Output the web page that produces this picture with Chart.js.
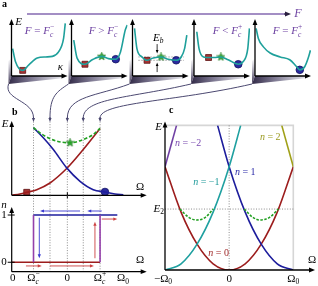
<!DOCTYPE html>
<html>
<head>
<meta charset="utf-8">
<script src="https://cdn.jsdelivr.net/npm/chart.js@4.4.1/dist/chart.umd.min.js"></script>
<style>
  body { margin: 0; background: #fff; overflow: hidden; }
  #wrap { position: relative; width: 318px; height: 286px; }
  #wrap canvas { position: absolute; left: 0; top: 0; }
</style>
</head>
<body>
<div id="wrap"></div>
<script>
// ---------- panel a: E(kappa) for five values of the drive F ----------
const kappaA1 = [0.02, 0.07, 0.20, 0.31, 0.46, 0.61, 0.73, 0.84, 0.93, 0.96];
const energyA1 = [0.49, 0.26, 0.10, 0.20, 0.32, 0.34, 0.35, 0.43, 0.67, 0.94];
const kappaA2 = [0.04, 0.10, 0.24, 0.37, 0.54, 0.66, 0.79, 0.875, 0.96, 0.995];
const energyA2 = [0.64, 0.32, 0.21, 0.29, 0.35, 0.31, 0.30, 0.43, 0.82, 0.91];
const kappaA3 = [0.036, 0.079, 0.17, 0.26, 0.37, 0.51, 0.64, 0.78, 0.87, 0.93, 0.97];
const energyA3 = [0.85, 0.49, 0.34, 0.28, 0.32, 0.34, 0.30, 0.28, 0.34, 0.49, 0.73];
const kappaA4 = [0.05, 0.09, 0.17, 0.26, 0.36, 0.48, 0.61, 0.79, 0.88, 0.96, 0.99];
const energyA4 = [0.79, 0.49, 0.34, 0.33, 0.33, 0.34, 0.29, 0.21, 0.26, 0.49, 0.85];
const kappaA5 = [0.02, 0.06, 0.15, 0.27, 0.45, 0.62, 0.74, 0.80, 0.89, 0.95, 0.99];
const energyA5 = [0.85, 0.67, 0.52, 0.41, 0.34, 0.29, 0.17, 0.11, 0.17, 0.32, 0.46];

const squareKappa = [0.20, 0.24, 0.26, 0.26, null];
const squareEnergy = [0.10, 0.21, 0.28, 0.33, null];
const starKappa = [null, 0.54, 0.51, 0.48, null];
const starEnergy = [null, 0.35, 0.34, 0.34, null];
const circleKappa = [null, 0.79, 0.78, 0.79, 0.80];
const circleEnergy = [null, 0.30, 0.28, 0.21, 0.11];

const forceRelation = ['=', '>', null, '<', '='];
const forceSign = ['\u2212', '\u2212', null, '+', '+'];
const barrierLevels = [0.34, 0.28];

// ---------- panel b: branch energies and occupation n ----------
const blueOmega = [0.196, 0.284, 0.374, 0.494, 0.614, 0.733, 0.838, 0.928, 1.003];
const blueEnergy = [0.91, 0.774, 0.616, 0.369, 0.189, 0.076, 0.045, 0.018, 0.008];
const redOmega = [0, 0.075, 0.135, 0.225, 0.344, 0.494, 0.643, 0.794];
const redEnergy = [0, 0.018, 0.04, 0.076, 0.166, 0.36, 0.616, 0.90];
const greenOmega = [0.196, 0.284, 0.404, 0.524, 0.643, 0.733, 0.794];
const greenEnergy = [0.91, 0.81, 0.73, 0.707, 0.751, 0.819, 0.90];
const markerOmega = [0.135, 0.524, 0.838];   // square, star, circle
const markerEnergy = [0.04, 0.707, 0.045];

const omegaCminus = 0.196, omegaCplus = 0.794;
const upperOmega = [omegaCminus, 0.949], upperN = [1, 1];
const lowerOmega = [0, omegaCplus], lowerN = [0, 0];
const guideOmega = [0.196, 0.344, 0.5, 0.643, 0.794];
const bTickOmega = [0, 0.196, 0.5, 0.794, 1.0];
const bTickBase = ['0', '\u03A9', '0', '\u03A9', '\u03A9'];
const bTickSub = ['', 'c', '', 'c', '0'];
const bTickSup = ['', '\u2212', '', '+', ''];

// ---------- panel c: parabolic branches n = -2 .. 2 ----------
const n0Omega = [-1, -0.75, -0.5, -0.25, 0, 0.25, 0.5, 0.75, 1];
const n0Energy = [1, 0.56, 0.25, 0.06, 0, 0.06, 0.25, 0.56, 1];
const nm1Omega = [-1, -0.75, -0.5, -0.25, 0, 0.18];
const nm1Energy = [0, 0.06, 0.25, 0.56, 1, 1.4];
const n1Omega = [-0.18, 0, 0.25, 0.5, 0.75, 1];
const n1Energy = [1.4, 1, 0.56, 0.25, 0.06, 0];
const nm2Omega = [-1, -0.82];
const nm2Energy = [1, 1.4];
const n2Omega = [0.82, 1];
const n2Energy = [1.4, 1];
const leftArcOmega = [-0.767, -0.63, -0.504, -0.37, -0.248];
const rightArcOmega = [0.235, 0.37, 0.48, 0.63, 0.767];
const arcEnergy = [0.59, 0.51, 0.484, 0.51, 0.59];
const levelE2 = 0.59;

// ---------- drawing ----------
const W = 318, H = 286;
const SERIF = '"Liberation Serif", "DejaVu Serif", serif';
const wellLeft = [11.5, 71.5, 132.5, 194, 255];
const TEAL = '#1fa09b', RED = '#9c1d1d', BLUE = '#1d1d9c', GREEN = '#22a022', PURPLE = '#6b3fa0';
const wrap = document.getElementById('wrap');

function addCanvas() {
  const c = document.createElement('canvas');
  c.width = W; c.height = H;
  wrap.appendChild(c);
  return c;
}

function pts(xs, ys) {
  return xs.map((x, i) => ({ x: x, y: ys[i] }));
}

function curve(xs, ys, color, extra) {
  return Object.assign({
    data: pts(xs, ys), showLine: true, borderColor: color, borderWidth: 1.6,
    pointRadius: 0, cubicInterpolationMode: 'monotone', fill: false
  }, extra || {});
}

function segment(xs, ys, color, width) {
  return { data: pts(xs, ys), showLine: true, borderColor: color, borderWidth: width, pointRadius: 0, fill: false };
}

function starImage(size) {
  const c = document.createElement('canvas');
  c.width = c.height = size;
  const g = c.getContext('2d');
  const m = size / 2, R = size / 2 - 0.3, r = R * 0.45;
  g.beginPath();
  for (let i = 0; i < 10; i++) {
    const a = -Math.PI / 2 + i * Math.PI / 5, rr = i % 2 ? r : R;
    g.lineTo(m + rr * Math.cos(a), m + rr * Math.sin(a));
  }
  g.closePath();
  g.fillStyle = '#3cae3c'; g.fill();
  g.strokeStyle = '#1b6e1b'; g.lineWidth = 0.6; g.stroke();
  return c;
}
const STAR = starImage(9);

function marker(x, y, kind) {
  if (x === null) return null;
  const base = { data: [{ x: x, y: y }], showLine: false, borderWidth: 0.8 };
  if (kind === 'square') return Object.assign(base, { pointStyle: 'rect', pointRadius: 4.2, backgroundColor: '#a83434', borderColor: '#5e1414' });
  if (kind === 'circle') return Object.assign(base, { pointStyle: 'circle', pointRadius: 3.8, backgroundColor: '#2b2ba0', borderColor: '#101060' });
  return Object.assign(base, { pointStyle: STAR, pointRadius: 4 });
}

function arrow(ctx, x1, y1, x2, y2, color, lw, head) {
  const a = Math.atan2(y2 - y1, x2 - x1), c = Math.cos(a), s = Math.sin(a);
  ctx.save();
  ctx.strokeStyle = color; ctx.fillStyle = color; ctx.lineWidth = lw; ctx.setLineDash([]);
  ctx.beginPath(); ctx.moveTo(x1, y1); ctx.lineTo(x2 - head * 0.7 * c, y2 - head * 0.7 * s); ctx.stroke();
  ctx.beginPath(); ctx.moveTo(x2, y2);
  ctx.lineTo(x2 - head * c + head * 0.4 * s, y2 - head * s - head * 0.4 * c);
  ctx.lineTo(x2 - head * c - head * 0.4 * s, y2 - head * s + head * 0.4 * c);
  ctx.closePath(); ctx.fill();
  ctx.restore();
}

// parts: [text, italic, 'sub' | 'sup']
function rich(ctx, x, y, parts, size, color, align) {
  ctx.save();
  ctx.fillStyle = color; ctx.textBaseline = 'middle'; ctx.textAlign = 'left';
  const font = p => (p[1] ? 'italic ' : '') + (p[2] ? size * 0.68 : size) + 'px ' + SERIF;
  let cx = 0, last = 0;
  const pos = parts.map((p, k) => {
    ctx.font = font(p);
    const w = ctx.measureText(p[0]).width;
    let px;
    if (p[2] === 'sup' && k > 0 && parts[k - 1][2] === 'sub') { px = last; cx = Math.max(cx, last + w); }
    else { px = cx; cx += w; }
    last = px;
    return px;
  });
  const x0 = align === 'center' ? x - cx / 2 : align === 'right' ? x - cx : x;
  parts.forEach((p, k) => {
    ctx.font = font(p);
    const dy = p[2] === 'sub' ? size * 0.3 : p[2] === 'sup' ? -size * 0.38 : 0;
    ctx.fillText(p[0], x0 + pos[k], y + dy);
  });
  ctx.restore();
}

function bold(ctx, text, x, y) {
  ctx.save();
  ctx.font = 'bold 10px ' + SERIF; ctx.fillStyle = '#000'; ctx.textBaseline = 'middle';
  ctx.fillText(text, x, y);
  ctx.restore();
}

function dotted(ctx, x1, y1, x2, y2, color) {
  ctx.save();
  ctx.strokeStyle = color; ctx.lineWidth = 0.8; ctx.setLineDash([1, 1.6]);
  ctx.beginPath(); ctx.moveTo(x1, y1); ctx.lineTo(x2, y2); ctx.stroke();
  ctx.restore();
}

function makeChart(area, xRange, yRange, datasets, extras) {
  return new Chart(addCanvas(), {
    type: 'scatter',
    data: { datasets: datasets.filter(d => d) },
    options: {
      responsive: false, animation: false, devicePixelRatio: 1, events: [],
      layout: { padding: { left: area[0], top: area[1], right: W - area[2], bottom: H - area[3] } },
      plugins: { legend: { display: false }, tooltip: { enabled: false } },
      scales: {
        x: { type: 'linear', display: false, min: xRange[0], max: xRange[1] },
        y: { type: 'linear', display: false, min: yRange[0], max: yRange[1] }
      }
    },
    plugins: [{ id: 'extras', beforeDatasetsDraw: extras.before, afterDatasetsDraw: extras.after }]
  });
}

// ----- panel a -----
const kappaSets = [kappaA1, kappaA2, kappaA3, kappaA4, kappaA5];
const energySets = [energyA1, energyA2, energyA3, energyA4, energyA5];
const labelOffset = [28, 32, 0, 33.5, 32.5];

kappaSets.forEach((kx, i) => {
  const left = wellLeft[i];
  makeChart([left, 20, left + 56, 76], [0, 1], [0, 1], [
    curve(kx, energySets[i], TEAL),
    marker(squareKappa[i], squareEnergy[i], 'square'),
    marker(starKappa[i], starEnergy[i], 'star'),
    marker(circleKappa[i], circleEnergy[i], 'circle')
  ], {
    before(chart) {
      const ctx = chart.ctx, a = chart.chartArea, xs = chart.scales.x, ys = chart.scales.y;
      ctx.save();
      // floor wedge under the kappa axis
      const g = ctx.createLinearGradient(a.left - 4, 0, a.right - 2, 0);
      g.addColorStop(0, '#2f2744'); g.addColorStop(0.4, '#7c7790'); g.addColorStop(1, '#f2f2f6');
      ctx.fillStyle = g;
      ctx.beginPath();
      ctx.moveTo(a.left, a.bottom); ctx.lineTo(a.right - 3, a.bottom);
      ctx.lineTo(a.right - 3, a.bottom + 2); ctx.lineTo(a.left - 3, a.bottom + 8);
      ctx.closePath(); ctx.fill();
      // thin wall strip left of the E axis
      const v = ctx.createLinearGradient(0, a.bottom - 18, 0, a.bottom + 8);
      v.addColorStop(0, 'rgba(110,104,135,0)'); v.addColorStop(1, '#3c3452');
      ctx.fillStyle = v;
      ctx.beginPath();
      ctx.moveTo(a.left, a.bottom - 18); ctx.lineTo(a.left, a.bottom);
      ctx.lineTo(a.left - 3, a.bottom + 8); ctx.lineTo(a.left - 3, a.bottom - 15);
      ctx.closePath(); ctx.fill();
      ctx.restore();
      if (i === 2) {
        barrierLevels.forEach(e => {
          ctx.save(); ctx.strokeStyle = '#b4b4b4'; ctx.lineWidth = 0.9; ctx.setLineDash([2, 1]);
          ctx.beginPath(); ctx.moveTo(xs.getPixelForValue(0.1), ys.getPixelForValue(e));
          ctx.lineTo(xs.getPixelForValue(0.92), ys.getPixelForValue(e)); ctx.stroke(); ctx.restore();
        });
      }
    },
    after(chart) {
      const ctx = chart.ctx, a = chart.chartArea, xs = chart.scales.x, ys = chart.scales.y;
      arrow(ctx, a.left, a.bottom, a.left, a.top - 1, '#000', 1.3, 6);
      arrow(ctx, a.left, a.bottom, a.right, a.bottom, '#000', 1.3, 6);
      if (i === 0) {
        rich(ctx, a.left + 7, 22, [['E', 1]], 11, '#000', 'center');
        rich(ctx, a.left + 49, 67, [['\u03BA', 1]], 11, '#000', 'center');
      }
      if (forceRelation[i]) {
        rich(ctx, a.left + labelOffset[i], 31.5,
          [['F', 1], [' ' + forceRelation[i] + ' ', 0], ['F', 1], ['c', 1, 'sub'], [forceSign[i], 0, 'sup']],
          11, PURPLE, 'center');
      } else {
        const ax = xs.getPixelForValue(0.44);
        arrow(ctx, ax, ys.getPixelForValue(0.57), ax, ys.getPixelForValue(0.40), '#000', 0.8, 3.5);
        arrow(ctx, ax, ys.getPixelForValue(0.07), ax, ys.getPixelForValue(0.24), '#000', 0.8, 3.5);
        rich(ctx, ax + 1, ys.getPixelForValue(0.68), [['E', 1], ['b', 1, 'sub']], 11, '#000', 'center');
      }
    }
  });
});

// ----- panel b, top: energies -----
makeChart([11.7, 121, 146.7, 195.3], [0, 1.213], [0, 1], [
  curve(greenOmega, greenEnergy, GREEN, { borderDash: [3.5, 2] }),
  curve(blueOmega, blueEnergy, BLUE),
  curve(redOmega, redEnergy, RED),
  marker(markerOmega[0], markerEnergy[0], 'square'),
  marker(markerOmega[1], markerEnergy[1], 'star'),
  marker(markerOmega[2], markerEnergy[2], 'circle')
], {
  before(chart) {
    const ctx = chart.ctx, a = chart.chartArea, xs = chart.scales.x;
    guideOmega.forEach(o => dotted(ctx, xs.getPixelForValue(o), 119, xs.getPixelForValue(o), a.bottom, '#707070'));
  },
  after(chart) {
    const ctx = chart.ctx, a = chart.chartArea, xs = chart.scales.x;
    arrow(ctx, a.left, a.bottom, a.left, a.top, '#000', 1.2, 6);
    arrow(ctx, a.left, a.bottom, a.right, a.bottom, '#000', 1.2, 6);
    const mid = xs.getPixelForValue(0.5);
    ctx.save(); ctx.strokeStyle = '#000'; ctx.lineWidth = 1;
    ctx.beginPath(); ctx.moveTo(mid, a.bottom - 3); ctx.lineTo(mid, a.bottom + 3); ctx.stroke(); ctx.restore();
    rich(ctx, 5, 124, [['E', 1]], 11, '#000', 'center');
    rich(ctx, 140, 187, [['\u03A9', 0]], 11, '#000', 'center');
    bold(ctx, 'a', 2, 4);
    bold(ctx, 'b', 12, 112);

    // drive arrow across panel a
    ctx.save(); ctx.strokeStyle = '#8468b0'; ctx.lineWidth = 1.3;
    ctx.beginPath(); ctx.moveTo(27, 14); ctx.lineTo(286, 14); ctx.stroke(); ctx.restore();
    arrow(ctx, 284, 14, 291, 14, '#2a2040', 1, 6);
    rich(ctx, 298, 14, [['F', 1]], 12, PURPLE, 'center');

    // connectors from the wells down to the guide lines
    const bend = [[-5, 16, 100], [-12, 8, 96], [-32, 12, 96], [-60, 14, 98], [-78, 18, 102]];
    ctx.save(); ctx.strokeStyle = '#4b4870'; ctx.lineWidth = 1;
    guideOmega.forEach((o, i) => {
      const sx = wellLeft[i] - 3, sy = 84, gx = xs.getPixelForValue(o);
      ctx.beginPath(); ctx.moveTo(sx, sy);
      ctx.bezierCurveTo(sx + bend[i][0], sy + bend[i][1], gx, bend[i][2], gx, 118);
      ctx.stroke();
    });
    ctx.restore();
    guideOmega.forEach(o => {
      const gx = xs.getPixelForValue(o);
      arrow(ctx, gx, 117, gx, 122, '#4b4870', 1, 4);
    });
  }
});

// ----- panel b, bottom: occupation n -----
makeChart([11.7, 207, 146.7, 271.7], [0, 1.213], [-0.2, 1.17], [
  segment([omegaCminus, omegaCminus], [0, 1], '#9440aa', 1.6),
  segment([omegaCplus, omegaCplus], [0, 1], '#9440aa', 1.6),
  segment(upperOmega, upperN, BLUE, 1.6),
  segment(lowerOmega, lowerN, RED, 1.6)
], {
  before(chart) {
    const ctx = chart.ctx, a = chart.chartArea, xs = chart.scales.x;
    guideOmega.forEach(o => dotted(ctx, xs.getPixelForValue(o), 195.5, xs.getPixelForValue(o), a.bottom, '#707070'));
  },
  after(chart) {
    const ctx = chart.ctx, a = chart.chartArea, xs = chart.scales.x, ys = chart.scales.y;
    const X = v => xs.getPixelForValue(v), Y = v => ys.getPixelForValue(v);
    arrow(ctx, a.left, a.bottom, a.left, a.top, '#000', 1.2, 6);
    arrow(ctx, a.left, a.bottom, a.right, a.bottom, '#000', 1.2, 6);
    ctx.save(); ctx.strokeStyle = '#000'; ctx.lineWidth = 1;
    [0, 1].forEach(n => { ctx.beginPath(); ctx.moveTo(a.left - 4, Y(n)); ctx.lineTo(a.left + 3, Y(n)); ctx.stroke(); });
    ctx.restore();
    rich(ctx, 4, 205, [['n', 1]], 11, '#000', 'center');
    rich(ctx, 4, Y(1), [['1', 0]], 11, '#000', 'center');
    rich(ctx, 4, Y(0), [['0', 0]], 11, '#000', 'center');
    rich(ctx, 140, 260, [['\u03A9', 0]], 11, '#000', 'center');
    bTickOmega.forEach((o, k) => {
      const parts = [[bTickBase[k], 0]];
      if (bTickSub[k]) parts.push([bTickSub[k], k === 4 ? 0 : 1, 'sub']);
      if (bTickSup[k]) parts.push([bTickSup[k], 0, 'sup']);
      rich(ctx, X(o) + (k === 0 ? 1 : 0), 278.5, parts, 11, '#000', 'center');
    });
    // hysteresis arrows
    const lb = '#3a3ad0', lr = '#cc4040';
    arrow(ctx, X(0.614), Y(1.085), X(0.254), Y(1.085), lb, 0.9, 4);
    arrow(ctx, X(0.809), Y(1.085), X(0.679), Y(1.085), lb, 0.9, 4);
    arrow(ctx, X(0.248), Y(0.943), X(0.248), Y(0.085), lb, 0.9, 4);
    arrow(ctx, X(0.748), Y(0.085), X(0.748), Y(0.858), lr, 0.9, 4);
    arrow(ctx, X(0.809), Y(0.915), X(0.949), Y(0.915), lr, 0.9, 4);
    arrow(ctx, X(0.128), Y(-0.078), X(0.27), Y(-0.078), lr, 0.9, 4);
    arrow(ctx, X(0.344), Y(-0.078), X(0.739), Y(-0.078), lr, 0.9, 4);
  }
});

// ----- panel c: parabolas -----
makeChart([165, 125.4, 293.3, 270], [-1, 1], [0, 1.4], [
  curve(leftArcOmega, arcEnergy, GREEN, { borderDash: [2.5, 1.5] }),
  curve(rightArcOmega, arcEnergy, GREEN, { borderDash: [2.5, 1.5] }),
  curve(nm2Omega, nm2Energy, '#7040a4'),
  curve(n2Omega, n2Energy, '#a0a018'),
  curve(nm1Omega, nm1Energy, '#1fa0a0'),
  curve(n1Omega, n1Energy, BLUE),
  curve(n0Omega, n0Energy, RED)
], {
  before(chart) {
    const ctx = chart.ctx, a = chart.chartArea, xs = chart.scales.x, ys = chart.scales.y;
    ctx.save(); ctx.strokeStyle = '#d6d6d6'; ctx.lineWidth = 1.6;
    ctx.beginPath(); ctx.moveTo(a.left, a.top); ctx.lineTo(a.right, a.top); ctx.lineTo(a.right, a.bottom); ctx.stroke();
    ctx.restore();
    dotted(ctx, xs.getPixelForValue(0), a.top, xs.getPixelForValue(0), a.bottom, '#707070');
    dotted(ctx, a.left, ys.getPixelForValue(levelE2), a.right, ys.getPixelForValue(levelE2), '#707070');
  },
  after(chart) {
    const ctx = chart.ctx, a = chart.chartArea, xs = chart.scales.x, ys = chart.scales.y;
    const X = v => xs.getPixelForValue(v), Y = v => ys.getPixelForValue(v);
    arrow(ctx, a.left, a.bottom, a.left, a.top - 4, '#000', 1.3, 6);
    arrow(ctx, a.left, a.bottom, 315, a.bottom, '#000', 1.3, 6);
    bold(ctx, 'c', 169, 110);
    rich(ctx, 158.5, 127, [['E', 1]], 11, '#000', 'center');
    rich(ctx, 164, Y(levelE2), [['E', 1], ['2', 0, 'sub']], 11, '#000', 'right');
    rich(ctx, 312, 260, [['\u03A9', 0]], 11, '#000', 'center');
    rich(ctx, X(-1) - 2, 279, [['\u2212\u03A9', 0], ['0', 0, 'sub']], 11, '#000', 'center');
    rich(ctx, X(0), 279, [['0', 0]], 11, '#000', 'center');
    rich(ctx, X(1), 279, [['\u03A9', 0], ['0', 0, 'sub']], 11, '#000', 'center');
    rich(ctx, X(-0.845), Y(1.226), [['n', 1], [' = \u22122', 0]], 10, '#7a4ab0', 'left');
    rich(ctx, X(0.48), Y(1.285), [['n', 1], [' = 2', 0]], 10, '#9a9a20', 'left');
    rich(ctx, X(-0.56), Y(0.845), [['n', 1], [' = \u22121', 0]], 10, '#1f9a9a', 'left');
    rich(ctx, X(0.09), Y(0.95), [['n', 1], [' = 1', 0]], 10, '#2a2aa8', 'left');
    rich(ctx, X(-0.326), Y(0.16), [['n', 1], [' = 0', 0]], 10, '#a02828', 'left');
  }
});
</script>
</body>
</html>
